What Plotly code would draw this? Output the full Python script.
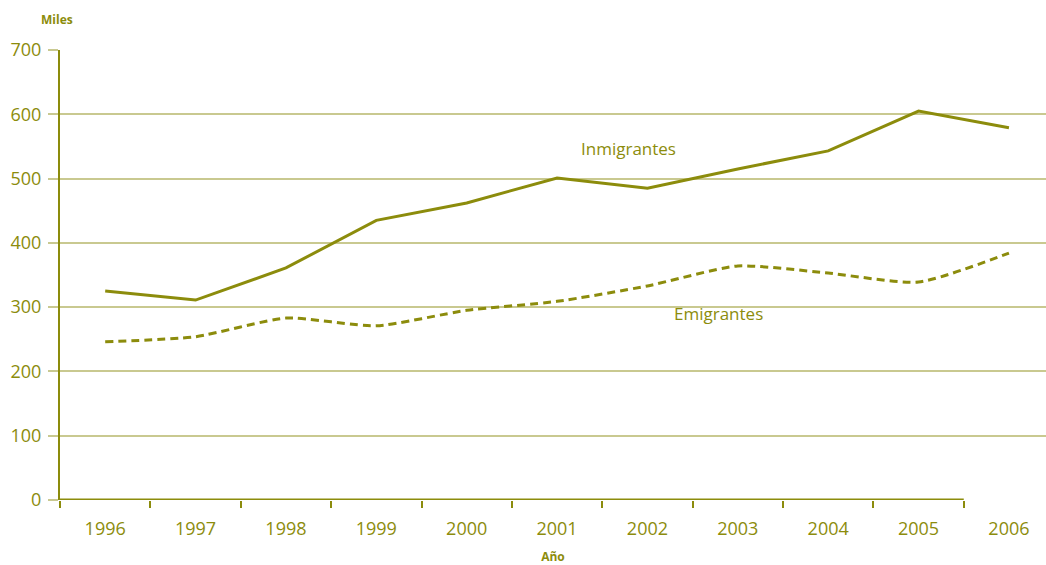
import plotly.graph_objects as go

years = ["1996", "1997", "1998", "1999", "2000", "2001", "2002", "2003", "2004", "2005", "2006"]
inmigrantes = [325, 311, 361, 435, 462, 501, 485, 515, 543, 605, 579]
emigrantes = [246, 254, 283, 271, 295, 309, 333, 364, 353, 339, 384]
y_ticks = [0, 100, 200, 300, 400, 500, 600, 700]

OLIVE = "#8c8c0c"
GRID = "#c9c990"
FONT = "Open Sans, Noto Sans, sans-serif"

fig = go.Figure()
fig.add_trace(go.Scatter(x=years, y=inmigrantes, mode="lines", name="Inmigrantes",
                         line=dict(color=OLIVE, width=3)))
fig.add_trace(go.Scatter(x=years, y=emigrantes, mode="lines", name="Emigrantes",
                         line=dict(color=OLIVE, width=3, dash="8px,5px", shape="spline", smoothing=0.6)))

# dark x-axis baseline up to last visible tick
fig.add_shape(type="line", xref="x", yref="y", x0=-0.61, x1=9.5, y0=0, y1=0,
              line=dict(color=OLIVE, width=3), layer="above")

fig.add_annotation(text="Inmigrantes", x=5.79, y=547, xref="x", yref="y",
                   showarrow=False, font=dict(family=FONT, size=17, color=OLIVE))
fig.add_annotation(text="Emigrantes", x=6.79, y=290, xref="x", yref="y",
                   showarrow=False, font=dict(family=FONT, size=17, color=OLIVE))
fig.add_annotation(text="<b>Miles</b>", x=-0.003, y=1.067, xref="paper", yref="paper",
                   xanchor="center", yanchor="middle",
                   showarrow=False, font=dict(family=FONT, size=12, color=OLIVE))

fig.update_layout(
    width=1046, height=565,
    margin=dict(l=60, r=0, t=50, b=65),
    plot_bgcolor="white", paper_bgcolor="white",
    showlegend=False,
    font=dict(family=FONT, color=OLIVE),
    xaxis=dict(
        type="category", range=[-0.5, 10.41],
        tickson="boundaries", ticks="outside", ticklen=7, tickwidth=1.5, tickcolor=OLIVE,
        showgrid=False, showline=False, zeroline=False, ticklabelstandoff=16,
        tickfont=dict(family=FONT, size=18, color=OLIVE),
        title=dict(text="<b>Año</b>", font=dict(family=FONT, size=12, color=OLIVE), standoff=17),
    ),
    yaxis=dict(
        range=[0, 700], tickvals=y_ticks, ticks="outside", ticklen=10, tickcolor=GRID, tickwidth=1.5,
        showgrid=True, gridcolor=GRID, gridwidth=1.5, ticklabelstandoff=3,
        showline=True, linecolor=OLIVE, linewidth=2, zeroline=False,
        tickfont=dict(family=FONT, size=18, color=OLIVE),
    ),
)
fig.write_html("out.html")
